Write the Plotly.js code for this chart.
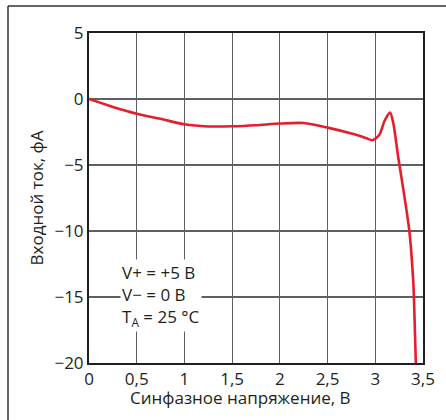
<!DOCTYPE html>
<html>
<head>
<meta charset="utf-8">
<script src="https://cdn.plot.ly/plotly-3.0.1.min.js"></script>
<style>
html,body{margin:0;padding:0;background:#fff;}
#chart{width:446px;height:420px;}
</style>
</head>
<body>
<div id="chart"></div>
<script>
// Common-mode voltage, V
const voltage = [0, 0.25, 0.5, 0.75, 1, 1.25, 1.5, 1.75, 2, 2.25, 2.5, 2.75, 2.9, 2.97, 3.04, 3.1, 3.155, 3.19, 3.24, 3.295, 3.357, 3.397, 3.405, 3.425];
// Input current, fA
const current = [0, -0.6, -1.11, -1.5, -1.92, -2.08, -2.07, -1.99, -1.86, -1.82, -2.17, -2.62, -2.95, -3.12, -2.75, -1.61, -1.03, -1.87, -4.39, -6.9, -10, -13.7, -15, -20];

const xTicks = [0, 0.5, 1, 1.5, 2, 2.5, 3, 3.5];
const yTicks = [5, 0, -5, -10, -15, -20];

const fontFam = '"Open Sans", "Noto Sans", sans-serif';
const txtColor = '#231f20';

const trace = {
  x: voltage,
  y: current,
  type: 'scatter',
  mode: 'lines',
  line: {color: '#e41e2b', width: 2.6, shape: 'spline', smoothing: 0.7},
  hoverinfo: 'none',
  cliponaxis: true
};

const layout = {
  width: 446,
  height: 420,
  margin: {l: 89, r: 23, t: 33, b: 57},
  paper_bgcolor: '#fff',
  plot_bgcolor: '#fff',
  separators: ', ',
  showlegend: false,
  font: {family: fontFam, size: 17, color: txtColor},
  xaxis: {
    range: [0, 3.5],
    tickvals: xTicks,
    ticks: '',
    showgrid: true,
    gridcolor: '#5f6062',
    gridwidth: 1.2,
    zeroline: false,
    showline: true,
    linecolor: '#231f20',
    linewidth: 2,
    mirror: true,
    tickfont: {family: fontFam, size: 17, color: txtColor}
  },
  yaxis: {
    range: [-20, 5],
    tickvals: yTicks,
    ticks: '',
    showgrid: true,
    gridcolor: '#5f6062',
    gridwidth: 1.2,
    zeroline: false,
    showline: true,
    linecolor: '#231f20',
    linewidth: 2,
    mirror: true,
    tickfont: {family: fontFam, size: 17, color: txtColor},
    title: {text: 'Входной ток, фА', font: {family: fontFam, size: 17, color: txtColor}, standoff: 6}
  },
  annotations: [{
    xref: 'paper', yref: 'paper',
    x: 0.092, y: (363 - 295) / 330,
    xanchor: 'left', yanchor: 'middle',
    align: 'left',
    showarrow: false,
    bgcolor: '#fff',
    borderpad: 1,
    text: 'V+ = +5 В<br>V− = 0 В<br>T<sub>A</sub> = 25 °C',
    font: {family: fontFam, size: 17, color: txtColor}
  }, {
    xref: 'paper', yref: 'paper',
    x: (240.5 - 89) / 334, y: (363 - 397) / 330,
    xanchor: 'center', yanchor: 'middle',
    showarrow: false,
    text: 'Синфазное напряжение, В',
    font: {family: fontFam, size: 17, color: txtColor}
  }],
  shapes: [
    {type: 'line', xref: 'paper', yref: 'paper', x0: (8 - 89) / 334, x1: (8 - 89) / 334, y0: (363 - 420) / 330 - 0.01, y1: (363 - 6) / 330, line: {color: '#333', width: 1.5}},
    {type: 'line', xref: 'paper', yref: 'paper', x0: (8 - 89) / 334, x1: (446 - 89) / 334 + 0.01, y0: (363 - 6) / 330, y1: (363 - 6) / 330, line: {color: '#333', width: 1.5}}
  ]
};

Plotly.newPlot('chart', [trace], layout, {displayModeBar: false, staticPlot: true});
</script>
</body>
</html>
